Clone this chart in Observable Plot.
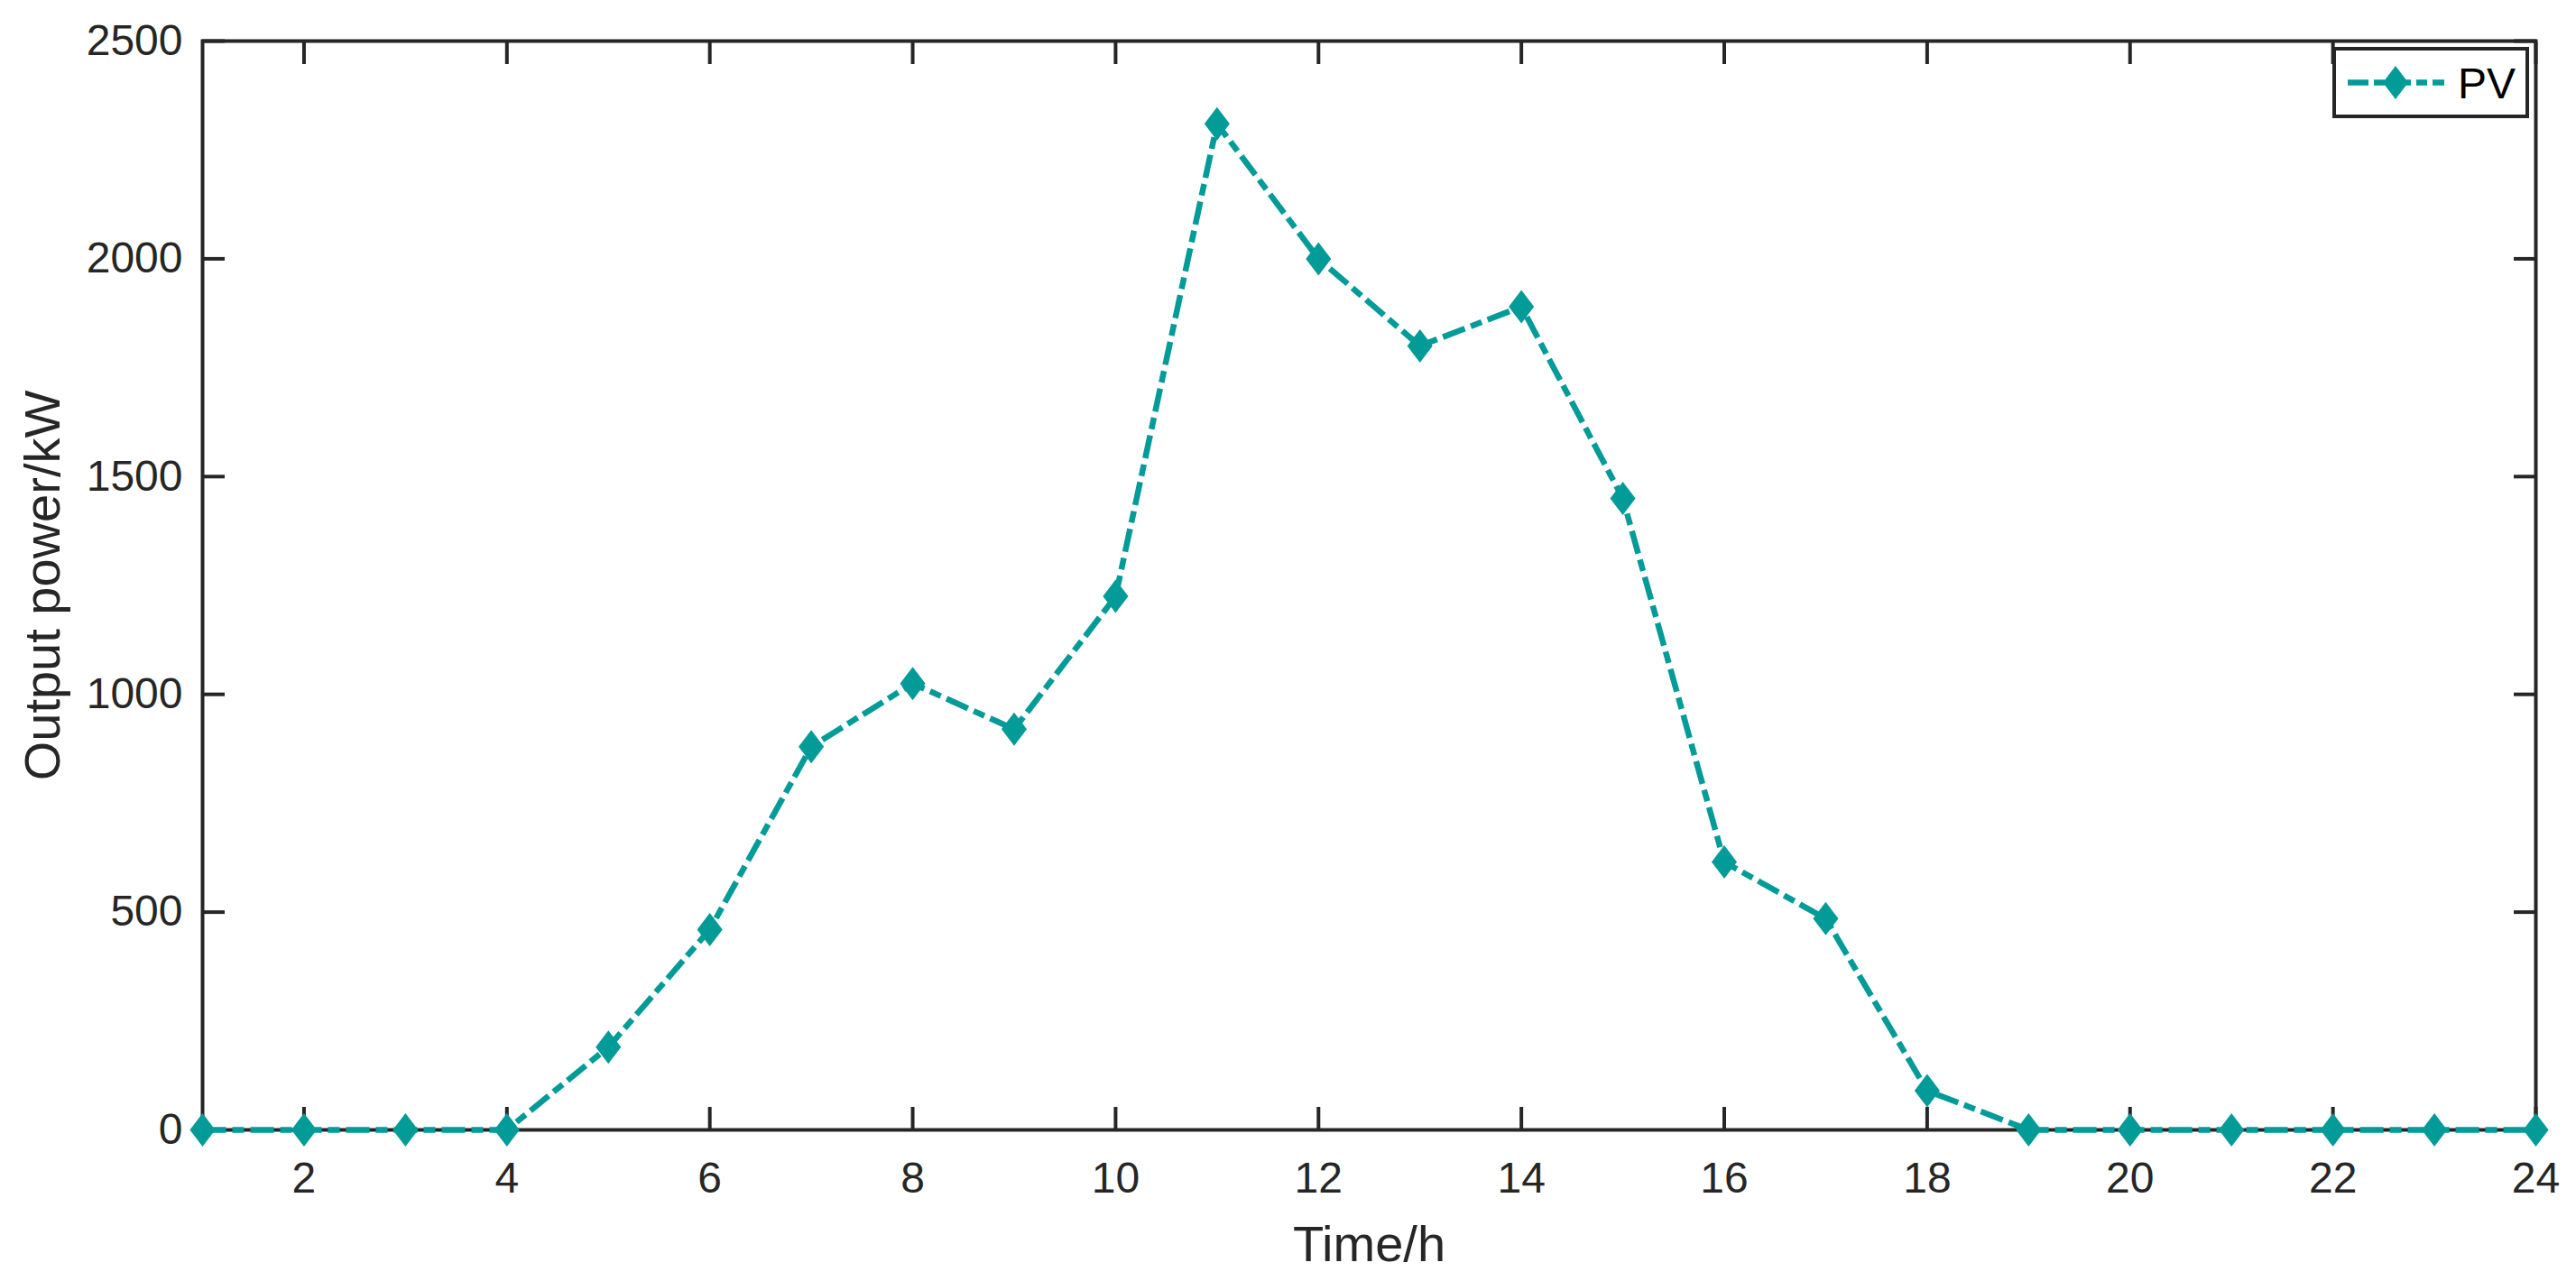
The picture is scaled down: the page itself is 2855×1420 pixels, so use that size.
<!DOCTYPE html>
<html>
<head>
<meta charset="utf-8">
<script src="https://cdn.jsdelivr.net/npm/d3@7"></script>
<script src="https://cdn.jsdelivr.net/npm/@observablehq/plot@0.6"></script>
<style>
html,body{margin:0;padding:0;background:#fff;}
#chart{position:relative;width:2855px;height:1420px;}
</style>
</head>
<body>
<div id="chart"></div>
<script>
// ---- data ----
const hours = [1,2,3,4,5,6,7,8,9,10,11,12,13,14,15,16,17,18,19,20,21,22,23,24];
const pvPower = [0,0,0,0,190,460,880,1025,920,1225,2310,2000,1800,1890,1450,615,485,90,0,0,0,0,0,0];
const xTicks = [2,4,6,8,10,12,14,16,18,20,22,24];
const yTicks = [0,500,1000,1500,2000,2500];
const seriesName = "PV";
const xLabel = "Time/h";
const yLabel = "Output power/kW";

// ---- styling / layout ----
const W = 2855, H = 1420;
const mL = 224, mR = 45, mT = 45, mB = 168;
const teal = "#039B98", ink = "#262626";
const dash = "26,7,13,7";
const lineW = 6.5;
const axisW = 4;
const font = "'Liberation Sans', Arial, Helvetica, sans-serif";
const fmt = d3.format("d");

const rows = hours.map((h, i) => ({hour: h, power: pvPower[i]}));

const wRatio = 0.76;
const matlabDiamond = {
  draw(ctx, size) {
    const r = Math.sqrt(size / Math.PI);
    const w = r * wRatio;
    ctx.moveTo(0, -r); ctx.lineTo(w, 0); ctx.lineTo(0, r); ctx.lineTo(-w, 0); ctx.closePath();
  }
};

const plot = Plot.plot({
  width: W, height: H,
  marginLeft: mL, marginRight: mR, marginTop: mT, marginBottom: mB,
  style: {fontFamily: font, fontSize: "48px", color: ink, background: "#fff", overflow: "visible"},
  x: {domain: [1, 24]},
  y: {domain: [0, 2500]},
  marks: [
    Plot.frame({stroke: ink, strokeWidth: axisW}),
    Plot.axisX({ticks: xTicks, tickSize: -25, tickPadding: 60, strokeWidth: axisW, label: null, fontSize: 48, fill: ink, tickFormat: fmt}),
    Plot.axisX({anchor: "top", ticks: xTicks, tickSize: -25, strokeWidth: axisW, label: null, tickFormat: () => ""}),
    Plot.axisY({ticks: yTicks, tickSize: -25, tickPadding: 47, strokeWidth: axisW, label: null, fontSize: 48, fill: ink, tickFormat: fmt}),
    Plot.axisY({anchor: "right", ticks: yTicks, tickSize: -25, strokeWidth: axisW, label: null, tickFormat: () => ""}),
    Plot.line(rows, {x: "hour", y: "power", stroke: teal, strokeWidth: lineW, strokeDasharray: dash, strokeLinecap: "butt", strokeLinejoin: "miter"}),
    Plot.dot(rows, {x: "hour", y: "power", symbol: matlabDiamond, r: 18.5, fill: teal, stroke: null}),
    Plot.text([xLabel], {frameAnchor: "bottom", dy: 145, lineAnchor: "bottom", fontSize: 56, fill: ink}),
    Plot.text([yLabel], {frameAnchor: "left", dx: -159, rotate: -90, lineAnchor: "bottom", textAnchor: "middle", fontSize: 56, fill: ink})
  ]
});

document.getElementById("chart").appendChild(plot);

// ---- legend (inside the axes, top-right) ----
const svg = d3.select(plot);
const right = W - mR;
const lx = right - 223, ly = mT + 9, lw = 214, lh = 75;
const lg = svg.append("g").attr("class", "legend");
lg.append("rect").attr("x", lx).attr("y", ly).attr("width", lw).attr("height", lh)
  .attr("fill", "#fff").attr("stroke", ink).attr("stroke-width", axisW);
const cy = ly + lh / 2;
lg.append("line").attr("x1", lx + 15).attr("x2", lx + 122).attr("y1", cy).attr("y2", cy)
  .attr("stroke", teal).attr("stroke-width", lineW).attr("stroke-dasharray", "23,6,12,6");
const dr = 18.5, dw = dr * wRatio, dcx = lx + 68;
lg.append("path").attr("d", `M${dcx},${cy - dr}L${dcx + dw},${cy}L${dcx},${cy + dr}L${dcx - dw},${cy}Z`).attr("fill", teal);
lg.append("text").attr("x", lx + 137).attr("y", cy + 17).attr("font-size", 48)
  .attr("text-anchor", "start")
  .attr("font-family", font).attr("fill", "#000").text(seriesName);
</script>
</body>
</html>
